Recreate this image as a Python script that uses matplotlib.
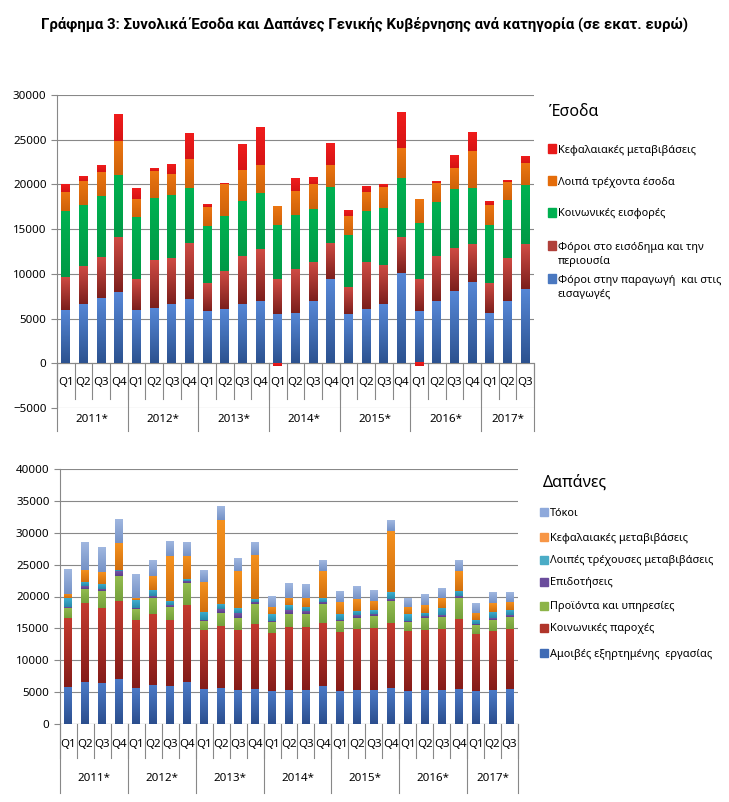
import numpy as np
import matplotlib.pyplot as plt
from matplotlib.patches import Rectangle
from matplotlib.colors import to_rgb

plt.rcParams['font.family'] = ['Noto Sans', 'DejaVu Sans']

# άξονας x
years = ['2011*', '2012*', '2013*', '2014*', '2015*', '2016*', '2017*']
quarters = ['Q1', 'Q2', 'Q3', 'Q4'] * 6 + ['Q1', 'Q2', 'Q3']

# Έσοδα (εκατ. ευρώ)
foroi_paragogi = [6000, 6600, 7250, 7920, 5910, 6130, 6580, 7140, 5800, 6020, 6580, 6910, 5460, 5580,
                  6910, 9370, 5460, 6020, 6580, 10040, 5800, 6910, 8030, 9140, 5580, 6910, 8360]
foroi_eisodima = [3700, 4300, 4680, 6210, 3530, 5470, 5240, 6350, 3200, 4350, 5390, 5920, 3910, 4980,
                  4470, 4120, 3090, 5360, 4460, 4120, 3680, 5130, 4910, 4240, 3420, 4910, 5020]
koin_eisfores = [7300, 6800, 6730, 6950, 6880, 6840, 7030, 6100, 6320, 6060, 6130, 6170, 6060, 6060,
                 5910, 6180, 5840, 5680, 6360, 6580, 6240, 6030, 6580, 6250, 6500, 6470, 6580]
loipa_esoda = [2200, 2700, 2750, 3790, 2080, 3010, 2340, 3270, 2110, 3610, 3460, 3190, 2080, 2670,
               2710, 2520, 2110, 2120, 2340, 3350, 2680, 2120, 2340, 4120, 2230, 2010, 2460]
kef_metav_esoda = [850, 550, 780, 3010, 1230, 330, 1110, 2900, 300, 60, 2860, 4240, -250, 1450,
                   740, 2350, 670, 670, 330, 4010, -350, 220, 1450, 2120, 340, 220, 780]

# Δαπάνες (εκατ. ευρώ)
amoives = [5810, 6600, 6440, 7070, 5650, 6180, 6020, 6600, 5500, 5650, 5340, 5500, 5180, 5340,
           5340, 5970, 5180, 5340, 5340, 5650, 5180, 5340, 5340, 5500, 5180, 5340, 5500]
koin_paroxes = [10790, 12350, 11780, 12300, 10690, 11100, 10320, 11990, 9260, 9740, 9480, 10210, 9110, 9900,
                9900, 9890, 9320, 9630, 9740, 10210, 9430, 9420, 9630, 10990, 8960, 9270, 9420]
proionta = [1670, 2250, 2570, 3880, 1720, 2560, 2090, 3450, 1420, 2100, 1880, 3140, 1780, 2040,
            2040, 2990, 1680, 1680, 1880, 3460, 1410, 1890, 1890, 3200, 1410, 1730, 1890]
epidotiseis = [130, 370, 410, 680, 210, 260, 260, 420, 160, 570, 680, 360, 160, 620,
               470, 360, 160, 470, 320, 310, 210, 310, 260, 310, 160, 260, 210]
loipes_metav = [1340, 630, 790, 260, 1210, 950, 680, 310, 1300, 790, 740, 420, 1050, 690,
                630, 480, 990, 680, 620, 1000, 1050, 530, 1100, 940, 680, 1040, 880]
kef_metav_dap = [680, 1990, 1780, 4130, 260, 2090, 6910, 3620, 4560, 13090, 5910, 6910, 1100, 1250,
                 1460, 4240, 1880, 1830, 1470, 9680, 1100, 1200, 1520, 3090, 1100, 1410, 1310]
tokoi = [3770, 4240, 3870, 3720, 3660, 2460, 2250, 2140, 1830, 2090, 1890, 1990, 1620, 2310,
         2150, 1670, 1580, 1890, 1680, 1570, 1410, 1570, 1460, 1570, 1510, 1580, 1420]

GRID = '#888888'


def grad_stack(ax, series, width):
    # κάθε σειρά: (τιμές, χρώμα πάνω, χρώμα κάτω)
    n = len(series[0][0])
    x = np.arange(n)
    pos = np.zeros(n)
    neg = np.zeros(n)
    t = np.linspace(0, 1, 64)[:, None, None]
    for vals, c_top, c_bot in series:
        vals = np.array(vals, dtype=float)
        bottoms = np.where(vals >= 0, pos, neg)
        rects = ax.bar(x, vals, width, bottom=bottoms, color='none', linewidth=0)
        top = np.array(to_rgb(c_top))
        bot = np.array(to_rgb(c_bot))
        img = bot + (top - bot) * t
        for r in rects:
            x0, y0, w, h = r.get_x(), r.get_y(), r.get_width(), r.get_height()
            if h == 0:
                continue
            lo, hi = min(y0, y0 + h), max(y0, y0 + h)
            ax.imshow(img, extent=[x0, x0 + w, lo, hi], origin='lower', aspect='auto',
                      interpolation='bilinear', zorder=3)
        pos = np.where(vals >= 0, pos + vals, pos)
        neg = np.where(vals < 0, neg + vals, neg)


def cat_axis(ax, q_y, q_sep, y_y, y_sep):
    n = len(quarters)
    for i, q in enumerate(quarters):
        ax.text(i, q_y, q, ha='center', va='center', fontsize=8.3, clip_on=False)
    for i in range(n + 1):
        ax.plot([i - 0.5, i - 0.5], [0, q_sep], color=GRID, lw=0.8, clip_on=False)
    starts = list(range(0, n, 4))
    ends = [min(s + 4, n) for s in starts]
    for yr, s, e in zip(years, starts, ends):
        ax.text((s + e - 1) / 2, y_y, yr, ha='center', va='center', fontsize=8.3, clip_on=False)
        ax.plot([s - 0.5, s - 0.5], [0, y_sep], color=GRID, lw=0.8, clip_on=False)
    ax.plot([n - 0.5, n - 0.5], [0, y_sep], color=GRID, lw=0.8, clip_on=False)


def style(ax, ylo, yhi):
    ax.set_xlim(-0.5, len(quarters) - 0.5)
    ax.set_ylim(ylo, yhi)
    ax.set_yticks(np.arange(ylo, yhi + 1, 5000))
    ax.set_xticks([])
    ax.yaxis.grid(True, color=GRID, lw=0.8)
    ax.set_axisbelow(True)
    for s in ['top', 'right', 'bottom']:
        ax.spines[s].set_visible(False)
    ax.spines['left'].set_color(GRID)
    ax.spines['left'].set_linewidth(0.8)
    ax.tick_params(axis='y', colors=GRID, labelcolor='black', labelsize=8.3, length=4, width=0.8)
    ax.axhline(0, color=GRID, lw=0.8, zorder=2)


def legend(fig, title, tx, ty, sx, items):
    fig.text(tx / 729, 1 - ty / 802, title, fontsize=11.5, va='center', ha='left')
    for label, color, y in items:
        fig.add_artist(Rectangle((sx / 729, 1 - (y + 3.5) / 802), 8 / 729, 8 / 802,
                                 transform=fig.transFigure, color=color))
        nl = label.count('\n')
        fig.text((sx + 10) / 729, 1 - (y + 1 + 7.5 * nl) / 802, label, fontsize=7.9, va='center',
                 ha='left', linespacing=1.3)


fig = plt.figure(figsize=(7.29, 8.02), dpi=100)
fig.text(365 / 729, 1 - 24 / 802,
         'Γράφημα 3: Συνολικά Έσοδα και Δαπάνες Γενικής Κυβέρνησης ανά κατηγορία (σε εκατ. ευρώ)',
         ha='center', va='center', fontsize=10.8, fontweight='bold', family=['Roboto', 'DejaVu Sans'])

# --- Έσοδα ---
ax1 = fig.add_axes([57 / 729, 1 - 408 / 802, 477 / 729, 313 / 802])
grad_stack(ax1, [
    (foroi_paragogi, '#5687D6', '#2C5290'),
    (foroi_eisodima, '#D04C44', '#7C1F1C'),
    (koin_eisfores, '#00B252', '#009946'),
    (loipa_esoda, '#EC7612', '#CF620A'),
    (kef_metav_esoda, '#F01C1C', '#D61414'),
], 0.5)
style(ax1, -5000, 30000)
cat_axis(ax1, -2200, -4000, -6300, -7600)

legend(fig, 'Έσοδα', 549, 112, 548, [
    ('Κεφαλαιακές μεταβιβάσεις', '#E81A1A', 149),
    ('Λοιπά τρέχοντα έσοδα', '#E46C0A', 181),
    ('Κοινωνικές εισφορές', '#00B050', 213),
    ('Φόροι στο εισόδημα και την\nπεριουσία', '#B0403A', 246),
    ('Φόροι στην παραγωγή  και στις\nεισαγωγές', '#4A78C0', 279),
])

# --- Δαπάνες ---
ax2 = fig.add_axes([60 / 729, 1 - 724 / 802, 458 / 729, 255 / 802])
grad_stack(ax2, [
    (amoives, '#4C7BC8', '#2B4E8E'),
    (koin_paroxes, '#C43B2F', '#841C19'),
    (proionta, '#95BD50', '#74A03C'),
    (epidotiseis, '#7556A6', '#5A3E88'),
    (loipes_metav, '#3FB0D0', '#2889A8'),
    (kef_metav_dap, '#F5921F', '#D16F0E'),
    (tokoi, '#A0B7E0', '#7592C6'),
], 0.47)
style(ax2, 0, 40000)
cat_axis(ax2, -3140, -5340, -8480, -10830)

legend(fig, 'Δαπάνες', 543, 483, 540, [
    ('Τόκοι', '#8EA9DB', 512),
    ('Κεφαλαιακές μεταβιβάσεις', '#F79646', 537),
    ('Λοιπές τρέχουσες μεταβιβάσεις', '#4BACC6', 560),
    ('Επιδοτήσεις', '#6A4C9C', 582),
    ('Προϊόντα και υπηρεσίες', '#8DB448', 606),
    ('Κοινωνικές παροχές', '#B0352A', 628),
    ('Αμοιβές εξηρτημένης  εργασίας', '#3F6BB5', 653),
])

fig.savefig('out.png', dpi=100)
